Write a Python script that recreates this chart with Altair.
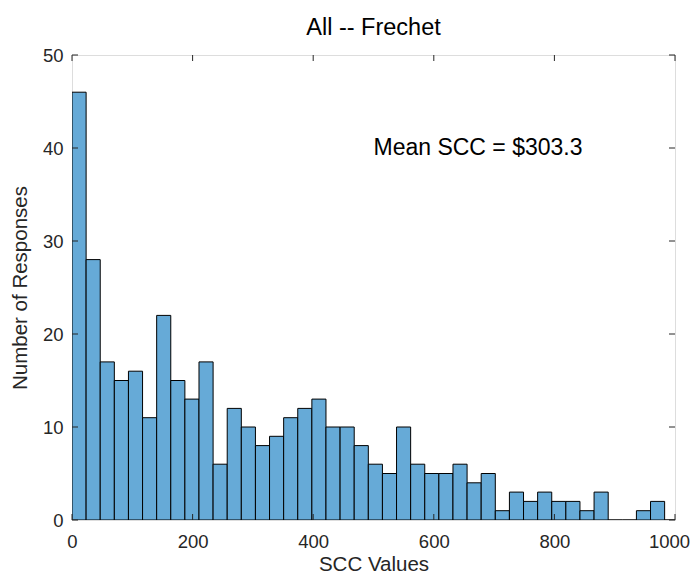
import altair as alt
import pandas as pd

# ---- data ----
bin_width = 23.4
counts = [46, 28, 17, 15, 16, 11, 22, 15, 13, 17,
          6, 12, 10, 8, 9, 11, 12, 13, 10, 10,
          8, 6, 5, 10, 6, 5, 5, 6, 4, 5,
          1, 3, 2, 3, 2, 2, 1, 3, 0, 0,
          1, 2, 0]
x_ticks = [0, 200, 400, 600, 800, 1000]
y_ticks = [0, 10, 20, 30, 40, 50]
title_text = "All -- Frechet"
x_title = "SCC Values"
y_title = "Number of Responses"
annotation = ["Mean SCC = $303.3"]
ann_x = [500]
ann_y = [40]

df = pd.DataFrame({"start": [i * bin_width for i in range(len(counts))],
                   "count": counts})
df["end"] = df["start"] + bin_width
ann_df = pd.DataFrame({"start": ann_x, "count": ann_y, "t": annotation})
xt_df = pd.DataFrame({"start": x_ticks})
yt_df = pd.DataFrame({"count": y_ticks})

W, H = 603, 465
FONT = "Liberation Sans"
AX = "#262626"
TL = 6

xs = alt.Scale(domain=[0, 1000], nice=False, zero=False)
ys = alt.Scale(domain=[0, 50], nice=False)

bars = alt.Chart(df).mark_rect(
    fill="#66aad7", stroke="#000000", strokeWidth=1, clip=True
).encode(
    x=alt.X("start:Q", scale=xs,
            axis=alt.Axis(values=x_ticks, format="d", title=x_title, ticks=False,
                          grid=False, domain=False, labelFontSize=18.5,
                          titleFontSize=20.5, labelFont=FONT, titleFont=FONT,
                          labelColor=AX, titleColor=AX, titleFontWeight="normal",
                          labelPadding=12, titlePadding=4, labelFlush=False,
                          labelOverlap=False, labelAngle=0,
                          labelOffset={"condition": {"test": "datum.value == 1000",
                                                     "value": -6},
                                       "value": 0})),
    x2="end:Q",
    y=alt.Y("count:Q", scale=ys,
            axis=alt.Axis(values=y_ticks, format="d", title=y_title, ticks=False,
                          grid=False, domain=False, labelFontSize=18.5,
                          titleFontSize=20.5, labelFont=FONT, titleFont=FONT,
                          labelColor=AX, titleColor=AX, titleFontWeight="normal",
                          labelPadding=9, titlePadding=12, labelFlush=False)),
    y2=alt.datum(0),
)

bottom_ticks = alt.Chart(xt_df).mark_rule(color=AX, strokeWidth=1).encode(
    x=alt.X("start:Q", scale=xs), y=alt.value(H), y2=alt.value(H - TL))
top_ticks = alt.Chart(xt_df).mark_rule(color=AX, strokeWidth=1).encode(
    x=alt.X("start:Q", scale=xs), y=alt.value(0), y2=alt.value(TL))
left_ticks = alt.Chart(yt_df).mark_rule(color=AX, strokeWidth=1).encode(
    y=alt.Y("count:Q", scale=ys), x=alt.value(0), x2=alt.value(TL))
right_ticks = alt.Chart(yt_df).mark_rule(color=AX, strokeWidth=1).encode(
    y=alt.Y("count:Q", scale=ys), x=alt.value(W - TL), x2=alt.value(W))

ann = alt.Chart(ann_df).mark_text(
    align="left", baseline="middle", fontSize=23, font=FONT, color="#000000"
).encode(x=alt.X("start:Q", scale=xs), y=alt.Y("count:Q", scale=ys), text="t:N")

chart = alt.layer(bars, bottom_ticks, top_ticks, left_ticks, right_ticks, ann).properties(
    width=W, height=H,
    title=alt.TitleParams(title_text, fontSize=23.5, font=FONT, fontWeight="normal",
                          color="#000000", anchor="middle", offset=7),
    autosize=alt.AutoSizeParams(type="none"),
    padding={"left": 64, "top": 47, "right": 16, "bottom": 55},
).configure_view(stroke=AX, strokeWidth=1).configure(background="#ffffff")

chart.save("out.html", embed_options={"renderer": "svg", "actions": False})
